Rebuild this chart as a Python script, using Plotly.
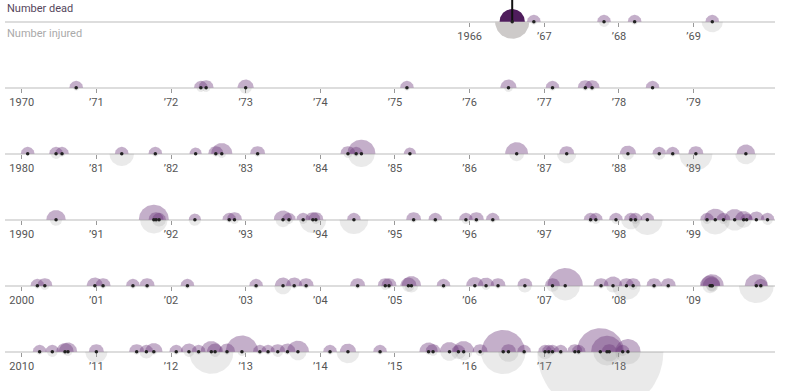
import numpy as np
import plotly.graph_objects as go

# ---- data ----
event_year = [
    1966.57, 1966.86, 1967.80, 1968.21, 1969.25,
    1970.73, 1972.40, 1972.47, 1973.00, 1975.16, 1976.52, 1977.11, 1977.55, 1977.64, 1978.45,
    1980.08, 1980.46, 1980.54, 1981.34, 1981.79, 1982.33, 1982.60, 1982.68, 1983.16,
    1984.37, 1984.48, 1984.55, 1985.20, 1986.63, 1987.30, 1988.12, 1988.54, 1988.72,
    1989.03, 1989.70,
    1990.46, 1991.77, 1991.80, 1991.84, 1992.32, 1992.78, 1992.85, 1993.50, 1993.58,
    1993.77, 1993.90, 1993.94, 1994.45, 1995.25, 1995.54, 1995.95, 1996.09, 1996.31,
    1997.62, 1997.69, 1997.96, 1998.16, 1998.22, 1998.38, 1999.18, 1999.29, 1999.40,
    1999.55, 1999.67, 1999.71, 1999.84, 1999.99,
    2000.21, 2000.31, 2000.98, 2001.09, 2001.49, 2001.68, 2002.22, 2003.14, 2003.50,
    2003.65, 2003.81, 2004.50, 2004.87, 2004.92, 2005.18, 2005.22, 2005.65, 2006.07,
    2006.22, 2006.38, 2006.74, 2007.11, 2007.28, 2007.76, 2007.92, 2008.10, 2008.19,
    2008.47, 2008.66, 2009.22, 2009.24, 2009.25, 2009.84, 2009.90,
    2010.24, 2010.41, 2010.58, 2010.62, 2011.00, 2011.54, 2011.67, 2011.77, 2012.07,
    2012.24, 2012.37, 2012.54, 2012.59, 2012.75, 2012.95, 2013.19, 2013.30, 2013.43,
    2013.56, 2013.70, 2014.13, 2014.37, 2014.80, 2015.45, 2015.51, 2015.73, 2015.85,
    2015.92, 2016.14, 2016.45, 2016.52, 2016.73, 2017.01, 2017.06, 2017.11, 2017.22,
    2017.41, 2017.46, 2017.75, 2017.84, 2017.87, 2018.05, 2018.12,
]
dead = [
    17, 5, 5, 5, 5,
    5, 5, 6, 7, 5, 7, 5, 6, 6, 5,
    5, 5, 5, 5, 5, 4, 6, 12, 6,
    6, 5, 21, 4, 14, 6, 7, 5, 5,
    6, 9,
    10, 24, 6, 5, 4, 5, 6, 9, 5,
    5, 6, 6, 5, 6, 5, 5, 6, 5,
    5, 5, 5, 5, 5, 5, 5, 13, 5,
    12, 8, 4, 7, 5,
    5, 6, 7, 6, 5, 6, 5, 5, 7,
    7, 6, 6, 6, 6, 7, 10, 5, 8,
    7, 6, 6, 6, 33, 6, 9, 6, 6,
    6, 6, 11, 8, 14, 14, 5,
    5, 5, 8, 9, 6, 6, 5, 8, 5,
    7, 5, 12, 7, 7, 28, 5, 5, 6,
    7, 13, 5, 7, 5, 9, 6, 10, 5,
    12, 6, 50, 6, 5, 5, 5, 5, 5,
    6, 5, 59, 27, 6, 5, 17,
]
injured = [
    31, 1, 3, 1, 12,
    1, 2, 2, 4, 1, 2, 1, 1, 1, 0,
    0, 3, 1, 16, 1, 0, 1, 2, 1,
    2, 1, 19, 0, 6, 10, 4, 4, 1,
    29, 12,
    4, 20, 1, 5, 4, 1, 2, 6, 2,
    2, 19, 2, 22, 1, 1, 2, 1, 1,
    1, 2, 2, 10, 2, 25, 2, 23, 2,
    13, 7, 0, 0, 3,
    1, 2, 0, 1, 1, 1, 1, 1, 8,
    1, 1, 1, 2, 1, 4, 5, 1, 0,
    2, 1, 5, 4, 23, 1, 5, 21, 2,
    1, 1, 6, 3, 4, 32, 1,
    1, 3, 1, 2, 13, 1, 5, 1, 1,
    3, 1, 52, 3, 1, 2, 1, 1, 3,
    1, 8, 1, 14, 1, 1, 2, 9, 6,
    8, 2, 53, 11, 1, 6, 1, 1, 1,
    0, 1, 422, 20, 10, 2, 17,
]
highlight_year = 1966.57
row_starts = [1960, 1970, 1980, 1990, 2000, 2010]
row_tick_years = [
    [1966, 1967, 1968, 1969],
    list(range(1970, 1980)),
    list(range(1980, 1990)),
    list(range(1990, 2000)),
    list(range(2000, 2010)),
    list(range(2010, 2019)),
]
label_dead = "Number dead"
label_injured = "Number injured"

# ---- layout constants ----
W, H = 800, 391
X0_PX, X1_PX = 5, 775
LEFT_PAD, RIGHT_PAD = 0.2236, 10.09     # years before / after decade start
BASE0, ROW_GAP = 21.7, 66.0
K = 3.07                                  # px radius per sqrt(person)
PURPLE = "rgba(108,56,122,0.40)"
GRAY = "rgba(150,150,150,0.20)"
HL_PURPLE = "#4f1d5c"
HL_GRAY = "#cdcac9"

ppy = (X1_PX - X0_PX) / (LEFT_PAD + RIGHT_PAD)

fig = go.Figure()


def semi(t, n, up):
    r = K * np.sqrt(n)
    th = np.linspace(0, np.pi, 48)
    xs = t + r * np.cos(th) / ppy
    ys = r * np.sin(th) * (1 if up else -1)
    return xs, ys


ev = np.array(event_year)
d_arr = np.array(dead)
i_arr = np.array(injured)

for ri, d0 in enumerate(row_starts):
    xa = "x" if ri == 0 else f"x{ri+1}"
    ya = "y" if ri == 0 else f"y{ri+1}"
    mask = (ev >= d0) & (ev < d0 + 10)
    idx = np.where(mask)[0]
    for k in idx:
        if i_arr[k] <= 0:
            continue
        hl = abs(ev[k] - highlight_year) < 1e-6
        xs, ys = semi(ev[k], i_arr[k], False)
        fig.add_trace(go.Scatter(x=xs, y=ys, mode="lines", fill="toself",
                                 fillcolor=HL_GRAY if hl else GRAY,
                                 line=dict(width=0), hoverinfo="skip",
                                 xaxis=xa, yaxis=ya))
    for k in idx:
        hl = abs(ev[k] - highlight_year) < 1e-6
        xs, ys = semi(ev[k], d_arr[k], True)
        fig.add_trace(go.Scatter(x=xs, y=ys, mode="lines", fill="toself",
                                 fillcolor=HL_PURPLE if hl else PURPLE,
                                 line=dict(width=0), hoverinfo="skip",
                                 xaxis=xa, yaxis=ya))
    base = BASE0 + ROW_GAP * ri
    for k in idx:
        if abs(ev[k] - highlight_year) < 1e-6:
            fig.add_trace(go.Scatter(x=[ev[k], ev[k]], y=[0, base], mode="lines",
                                     line=dict(color="#111", width=2),
                                     hoverinfo="skip", xaxis=xa, yaxis=ya))
    fig.add_trace(go.Scatter(x=ev[idx], y=np.zeros(len(idx)), mode="markers",
                             marker=dict(size=3.5, color="#222"),
                             cliponaxis=False, hoverinfo="skip",
                             xaxis=xa, yaxis=ya))

layout = dict(width=W, height=H, margin=dict(l=0, r=0, t=0, b=0),
              paper_bgcolor="white", plot_bgcolor="rgba(0,0,0,0)",
              showlegend=False, hovermode=False,
              font=dict(family="Roboto, Liberation Sans, sans-serif", size=11, color="#555"))

for ri, d0 in enumerate(row_starts):
    base = BASE0 + ROW_GAP * ri
    tv = row_tick_years[ri]
    tt = [str(y) if (j == 0) else "’" + str(y)[2:] for j, y in enumerate(tv)]
    xname = "xaxis" if ri == 0 else f"xaxis{ri+1}"
    yname = "yaxis" if ri == 0 else f"yaxis{ri+1}"
    xid = "x" if ri == 0 else f"x{ri+1}"
    layout[xname] = dict(domain=[X0_PX / W, X1_PX / W],
                         range=[d0 - LEFT_PAD, d0 + RIGHT_PAD],
                         anchor="free", position=(H - base) / H,
                         layer="below traces",
                         showline=True, linecolor="#dddddd", linewidth=2,
                         ticks="outside", ticklen=4, tickwidth=1, tickcolor="#999",
                         tickvals=tv, ticktext=tt,
                         tickfont=dict(size=11, color="#555"),
                         showgrid=False, zeroline=False, fixedrange=True)
    layout[yname] = dict(domain=[0, 1], range=[base - H, base], anchor=xid,
                         visible=False, showgrid=False, zeroline=False, fixedrange=True)

fig.update_layout(**layout)

fig.add_annotation(x=X0_PX / W, y=1 - 9 / H, xref="paper", yref="paper",
                   text=label_dead, showarrow=False, xanchor="left", yanchor="middle",
                   font=dict(size=11, color="#55465c"))
fig.add_annotation(x=X0_PX / W, y=1 - 34 / H, xref="paper", yref="paper",
                   text=label_injured, showarrow=False, xanchor="left", yanchor="middle",
                   font=dict(size=11, color="#aaaaaa"))

fig.write_html("out.html", config={"displayModeBar": False})

# remove the browser's default page margin so the figure sits at (0, 0)
with open("out.html", "r", encoding="utf-8") as f:
    html = f.read()
html = html.replace("<head>", "<head><style>html,body{margin:0;padding:0;overflow:hidden;}</style>", 1)
with open("out.html", "w", encoding="utf-8") as f:
    f.write(html)
